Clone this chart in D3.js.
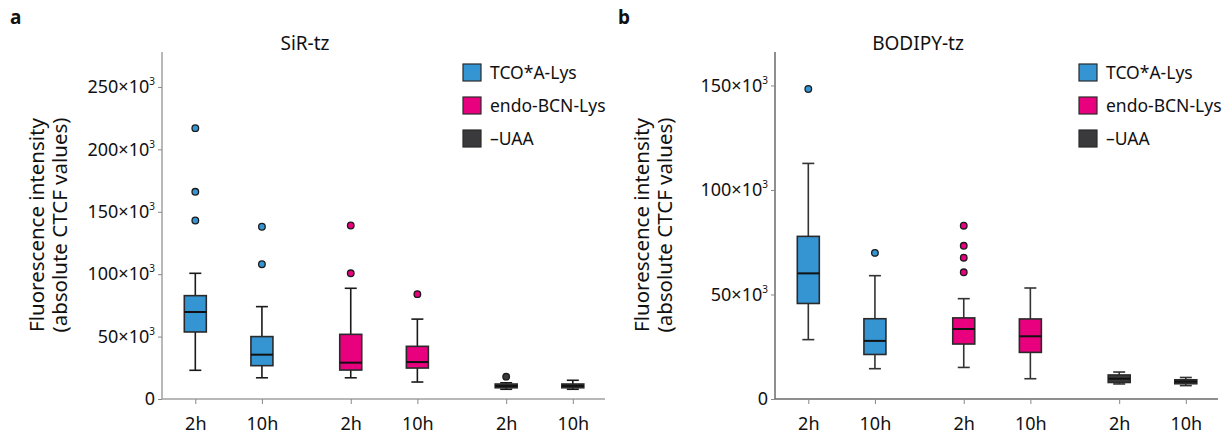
<!DOCTYPE html>
<html>
<head>
<meta charset="utf-8">
<script src="https://cdn.jsdelivr.net/npm/d3@7"></script>
<style>
  body { margin: 0; background: #fff; }
  text { font-family: "Noto Sans", "Open Sans", sans-serif; fill: #111; }
</style>
</head>
<body>
<div id="chart"></div>
<script>
// categories
var groups = ["TCO*A-Lys", "endo-BCN-Lys", "\u2013UAA"];
var times = ["2h", "10h"];
var colors = ["#3595d3", "#e8007f", "#3a3a3c"];

// SiR-tz box stats (x10^3), order: TCO 2h, TCO 10h, BCN 2h, BCN 10h, -UAA 2h, -UAA 10h
var sirLow = [23, 17, 17, 13.6, 7.8, 7.8];
var sirQ1 = [53.7, 26.7, 23.2, 24.8, 9, 9];
var sirMedian = [69.7, 35.5, 29.1, 29.6, 10.4, 10.5];
var sirQ3 = [82.8, 50, 51.8, 42.2, 12, 12];
var sirHigh = [100.7, 74, 88.7, 64, 13, 15];
var sirOutliers = [[217, 166, 143], [138, 108], [139, 100.7], [84], [17.9], []];
var sirTicks = [0, 50, 100, 150, 200, 250];

// BODIPY-tz box stats (x10^3)
var bodLow = [28.4, 14.5, 15.1, 9.7, 7.2, 6.4];
var bodQ1 = [45.7, 21.3, 26.3, 22.3, 7.9, 7.3];
var bodMedian = [60.1, 27.8, 33.5, 30, 9.7, 8.3];
var bodQ3 = [77.8, 38.4, 38.8, 38.3, 11.5, 9.2];
var bodHigh = [112.7, 59, 48, 53.1, 12.9, 10.3];
var bodOutliers = [[148.3], [69.9], [82.9, 73.3, 67.6, 60.6], [], [], []];
var bodTicks = [0, 50, 100, 150];

var svgWidth = 1229, svgHeight = 438;
var svg = d3.select("#chart").append("svg")
    .attr("width", svgWidth)
    .attr("height", svgHeight);

// slot position of each box: groups of two, with a wider gap between groups
var groupGap = 1 / 3;
function slot(i) {
    var g = Math.floor(i / 2), t = i % 2;
    return g * (2 + groupGap) + t;
}

function drawPanel(opt) {
    var width = 443;
    var top = 52, bottom = 399;
    var g = svg.append("g").attr("transform", `translate(${opt.left}, 0)`);

    var x = d3.scaleLinear().domain([-0.5, 6.15]).range([0, width]);
    var y = d3.scaleLinear().domain([0, opt.yMax]).range([bottom, top]);

    // y axis
    var yAxis = g.append("g")
        .call(d3.axisLeft(y).tickValues(opt.ticks).tickSize(4).tickPadding(3));
    yAxis.select(".domain").attr("stroke", opt.axisColor).attr("stroke-width", 1.5)
        .attr("d", `M0,${bottom}V${top}`);
    yAxis.selectAll(".tick line").attr("stroke", "#888");
    yAxis.selectAll(".tick text").each(function(d) {
        var t = d3.select(this).text(null).style("font-size", "18px").attr("fill", "#111");
        if (d === 0) { t.text("0"); return; }
        t.append("tspan").text(d + "\u00d710");
        t.append("tspan").text("3").style("font-size", "10px").attr("dy", "-0.8em");
    });

    // x axis
    var idx = d3.range(6);
    var xAxis = g.append("g")
        .attr("transform", `translate(0, ${bottom})`)
        .call(d3.axisBottom(x).tickValues(idx.map(slot)).tickSize(5).tickPadding(13)
            .tickFormat((d, i) => times[i % 2]));
    xAxis.select(".domain").attr("stroke", opt.axisColor).attr("stroke-width", 1.5)
        .attr("d", `M0,0H${width}`);
    xAxis.selectAll(".tick line").attr("stroke", "#888");
    xAxis.selectAll(".tick text").style("font-size", "18px").attr("fill", "#111");

    var boxW = 22, capW = 12;
    var boxes = g.selectAll("g.box").data(idx).enter().append("g").attr("class", "box");
    var col = i => colors[Math.floor(i / 2)];

    // whiskers
    boxes.append("line")
        .attr("x1", i => x(slot(i))).attr("x2", i => x(slot(i)))
        .attr("y1", i => y(opt.low[i])).attr("y2", i => y(opt.high[i]))
        .attr("stroke", opt.lineColor).attr("stroke-width", 1.6);
    boxes.append("line")
        .attr("x1", i => x(slot(i)) - capW / 2).attr("x2", i => x(slot(i)) + capW / 2)
        .attr("y1", i => y(opt.low[i])).attr("y2", i => y(opt.low[i]))
        .attr("stroke", opt.lineColor).attr("stroke-width", 1.6);
    boxes.append("line")
        .attr("x1", i => x(slot(i)) - capW / 2).attr("x2", i => x(slot(i)) + capW / 2)
        .attr("y1", i => y(opt.high[i])).attr("y2", i => y(opt.high[i]))
        .attr("stroke", opt.lineColor).attr("stroke-width", 1.6);

    // boxes
    boxes.append("rect")
        .attr("x", i => x(slot(i)) - boxW / 2)
        .attr("width", boxW)
        .attr("y", i => y(opt.q3[i]))
        .attr("height", i => y(opt.q1[i]) - y(opt.q3[i]))
        .attr("fill", col)
        .attr("stroke", "#2a2a2a").attr("stroke-width", 1.6);
    boxes.append("line")
        .attr("x1", i => x(slot(i)) - boxW / 2).attr("x2", i => x(slot(i)) + boxW / 2)
        .attr("y1", i => y(opt.median[i])).attr("y2", i => y(opt.median[i]))
        .attr("stroke", "#111").attr("stroke-width", 2);

    // outliers
    boxes.selectAll("circle")
        .data(i => opt.outliers[i].map(v => ({ i: i, v: v })))
        .enter().append("circle")
        .attr("cx", d => x(slot(d.i)))
        .attr("cy", d => y(d.v))
        .attr("r", 3.3)
        .attr("fill", d => col(d.i))
        .attr("stroke", "#1a1a1a").attr("stroke-width", 1.3);

    // title
    g.append("text")
        .attr("x", 143).attr("y", 50)
        .attr("text-anchor", "middle")
        .style("font-size", "19px")
        .text(opt.title);

    // panel letter
    svg.append("text")
        .attr("x", opt.letterX).attr("y", 24)
        .style("font-size", "19px").style("font-weight", "bold")
        .text(opt.letter);

    // y label
    var lab = g.append("text")
        .attr("transform", `translate(${opt.labelX}, 225) rotate(-90)`)
        .attr("text-anchor", "middle")
        .style("font-size", "20.5px");
    lab.append("tspan").attr("x", 0).attr("y", 0).text("Fluorescence intensity");
    lab.append("tspan").attr("x", 0).attr("y", 23).text("(absolute CTCF values)");

    // legend
    var leg = g.append("g").attr("transform", `translate(${opt.legendX}, 64)`);
    groups.forEach(function(name, k) {
        leg.append("rect")
            .attr("x", 0).attr("y", k * 33)
            .attr("width", 18).attr("height", 17)
            .attr("fill", colors[k])
            .attr("stroke", "#2a2a2a").attr("stroke-width", 1.2);
        leg.append("text")
            .attr("x", 27).attr("y", k * 33 + 15)
            .style("font-size", "17.5px")
            .text(name);
    });
}

drawPanel({
    left: 162, yMax: 278, ticks: sirTicks, title: "SiR-tz",
    low: sirLow, q1: sirQ1, median: sirMedian, q3: sirQ3, high: sirHigh, outliers: sirOutliers,
    axisColor: "#a0a0a0", lineColor: "#1a1a1a",
    letter: "a", letterX: 10, labelX: -118, legendX: 301
});

drawPanel({
    left: 775, yMax: 166, ticks: bodTicks, title: "BODIPY-tz",
    low: bodLow, q1: bodQ1, median: bodMedian, q3: bodQ3, high: bodHigh, outliers: bodOutliers,
    axisColor: "#6a6a6a", lineColor: "#333",
    letter: "b", letterX: 618, labelX: -126, legendX: 304
});
</script>
</body>
</html>
